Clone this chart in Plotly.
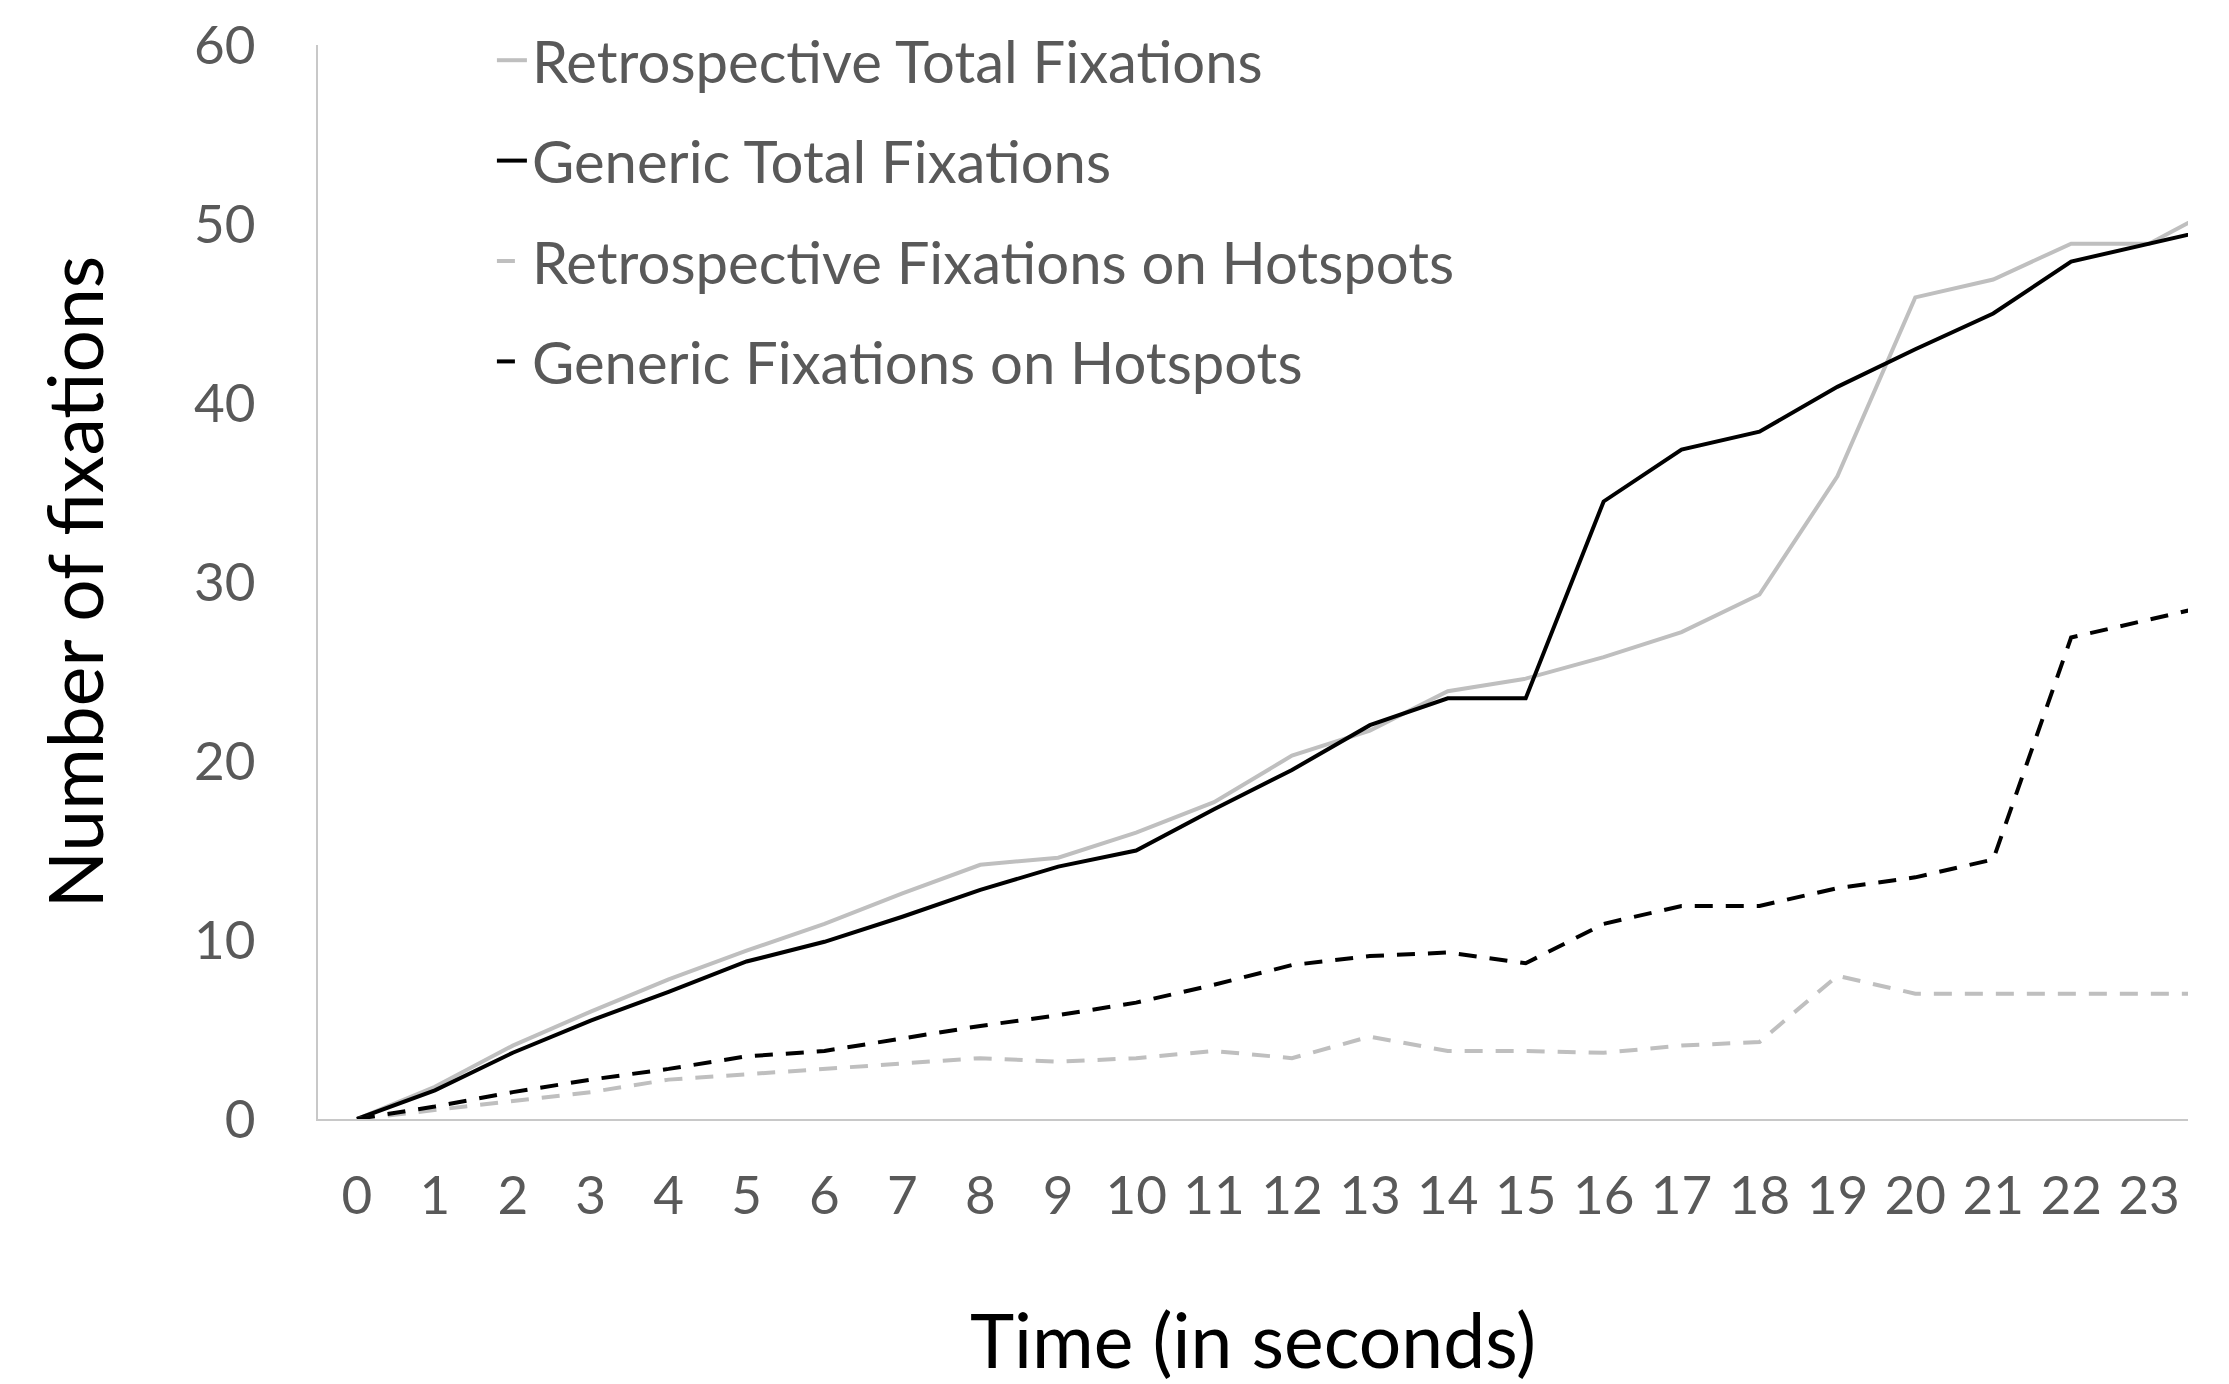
import plotly.graph_objects as go

time_s = list(range(0, 25))
tick_labels = [str(i) for i in range(0, 24)]

retro_total = [0, 1.8, 4.1, 6.0, 7.8, 9.4, 10.9, 12.6, 14.2, 14.6, 16.0, 17.7, 20.3, 21.7,
               23.9, 24.6, 25.8, 27.2, 29.3, 35.9, 45.9, 46.9, 48.9, 48.9, 51.2]
generic_total = [0, 1.6, 3.7, 5.5, 7.1, 8.8, 9.9, 11.3, 12.8, 14.1, 15.0, 17.3, 19.5, 22.0,
                 23.5, 23.5, 34.5, 37.4, 38.4, 40.9, 43.0, 45.0, 47.9, 48.9, 49.9]
retro_hot = [0, 0.5, 1.0, 1.5, 2.2, 2.5, 2.8, 3.1, 3.4, 3.2, 3.4, 3.8, 3.4, 4.6,
             3.8, 3.8, 3.7, 4.1, 4.3, 8.0, 7.0, 7.0, 7.0, 7.0, 7.0]
generic_hot = [0, 0.7, 1.5, 2.2, 2.8, 3.5, 3.8, 4.5, 5.2, 5.8, 6.5, 7.5, 8.6, 9.1,
               9.3, 8.7, 10.9, 11.9, 11.9, 12.9, 13.5, 14.5, 26.9, 27.9, 28.9]

series = [
    ("Retrospective Total Fixations", retro_total, "#bfbfbf", "solid"),
    ("Generic Total Fixations", generic_total, "#000000", "solid"),
    ("Retrospective Fixations on Hotspots", retro_hot, "#bfbfbf", "18px,13px"),
    ("Generic Fixations on Hotspots", generic_hot, "#000000", "18px,13px"),
]

FONT = "Lato"
fig = go.Figure()
for i, (name, vals, color, dash) in enumerate(series):
    fig.add_trace(go.Scatter(
        x=time_s, y=vals, mode="lines", name=name, legendgroup=f"g{i}",
        line=dict(color=color, width=4, dash=dash),
    ))

fig.update_layout(
    width=2229, height=1384,
    margin=dict(l=318, r=41, t=39, b=265),
    paper_bgcolor="white", plot_bgcolor="white",
    font=dict(family=FONT, color="#595959"),
    showlegend=True,
    legend=dict(
        x=0.093, y=1.027, xanchor="left", yanchor="top",
        font=dict(family=FONT, size=58, color="#595959"),
        bgcolor="rgba(0,0,0,0)", tracegroupgap=22,
    ),
    xaxis=dict(
        range=[-0.5, 23.5], tickmode="array", tickvals=list(range(0, 24)), ticktext=tick_labels,
        showgrid=False, zeroline=False, showline=True, linecolor="#c8c8c8", linewidth=2,
        ticks="", tickfont=dict(family=FONT, size=53, color="#595959"),
        ticklabelstandoff=29,
        title=dict(text="Time (in seconds)", font=dict(family=FONT, size=75, color="#000000"),
                   standoff=95),
    ),
    yaxis=dict(
        range=[0, 60], tickmode="array", tickvals=[0, 10, 20, 30, 40, 50, 60],
        showgrid=False, zeroline=False, showline=True, linecolor="#c8c8c8", linewidth=2,
        ticks="", tickfont=dict(family=FONT, size=53, color="#595959"),
        ticklabelstandoff=50,
        title=dict(text="Number of fixations", font=dict(family=FONT, size=75, color="#000000"),
                   standoff=66),
    ),
)

fig.write_html("out.html")
